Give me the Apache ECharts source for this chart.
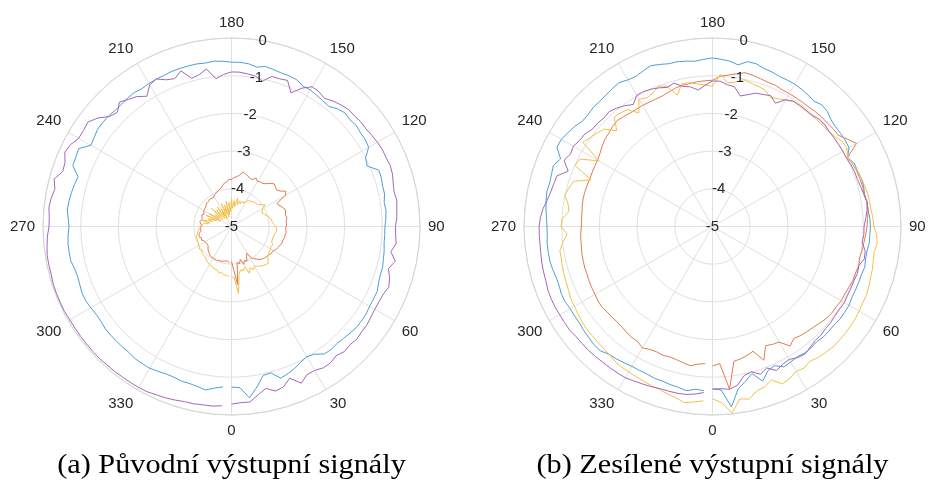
<!DOCTYPE html>
<html>
<head>
<meta charset="utf-8">
<script src="https://cdn.jsdelivr.net/npm/echarts@6/dist/echarts.min.js"></script>
<style>
  html, body { margin: 0; padding: 0; background: #ffffff; }
  #chart { width: 928px; height: 482px; }
</style>
</head>
<body>
<div id="chart"></div>
<script>
// Measurement angles in degrees (one sample every 3°, 0 … 357)
const ANGLES = [];
for (let a = 0; a < 360; a += 3) ANGLES.push(a);

// Radial scale (dB) and angular grid step
const R_MIN = -5, R_MAX = 0, R_STEP = 1;
const ANGLE_STEP = 30;

const CAPTIONS = ['(a) Původní výstupní signály', '(b) Zesílené výstupní signály'];

// (a) original output signals
const A_BLUE = [
  -0.74,-0.72,-0.43,-0.69,-0.96,-0.98,-0.77,-0.82,-0.88,-0.96,
  -1.01,-0.96,-0.82,-0.80,-0.82,-0.80,-0.77,-0.74,-0.74,-0.74,
  -0.77,-0.77,-0.77,-0.82,-0.85,-0.85,-0.88,-0.90,-0.93,-0.93,
  -0.93,-0.90,-0.88,-0.90,-0.85,-0.85,-0.82,-0.82,-1.06,-1.01,
  -0.80,-0.77,-0.77,-0.74,-0.77,-0.74,-0.80,-0.90,-0.88,-0.85,
  -0.82,-0.82,-0.74,-0.72,-0.72,-0.69,-0.66,-0.72,-0.66,-0.64,
  -0.64,-0.61,-0.59,-0.61,-0.59,-0.59,-0.59,-0.59,-0.61,-0.61,
  -0.62,-0.64,-0.61,-0.62,-0.64,-0.64,-0.61,-0.61,-0.61,-0.66,
  -0.69,-0.45,-0.48,-0.49,-0.72,-0.69,-0.66,-0.64,-0.62,-0.66,
  -0.69,-0.66,-0.64,-0.64,-0.64,-0.69,-0.71,-0.69,-0.66,-0.66,
  -0.69,-0.72,-0.72,-0.69,-0.69,-0.69,-0.69,-0.69,-0.66,-0.66,
  -0.66,-0.69,-0.72,-0.72,-0.69,-0.69,-0.66,-0.61,-0.69,-0.74
];
const A_ORANGE = [
  -4.07,-4.02,-3.45,-4.04,-3.99,-4.10,-3.94,-4.04,-3.99,-4.12,
  -4.18,-3.99,-3.94,-3.88,-3.83,-3.80,-3.78,-3.78,-3.75,-3.72,
  -3.72,-3.67,-3.64,-3.62,-3.59,-3.59,-3.56,-3.56,-3.54,-3.56,
  -3.55,-3.54,-3.54,-3.51,-3.54,-3.51,-3.51,-3.56,-3.62,-3.65,
  -3.35,-3.28,-3.40,-3.46,-3.43,-3.40,-3.46,-3.54,-3.59,-3.59,
  -3.62,-3.56,-3.64,-3.63,-3.59,-3.56,-3.52,-3.62,-3.67,-3.70,
  -3.75,-3.75,-3.80,-3.83,-3.88,-3.94,-3.96,-3.99,-4.02,-4.04,
  -4.07,-4.10,-4.12,-4.07,-4.10,-4.12,-4.10,-4.10,-4.15,-4.18,
  -4.15,-4.18,-4.20,-4.15,-4.18,-4.20,-4.18,-4.15,-4.18,-4.20,
  -4.16,-4.18,-4.15,-4.18,-4.12,-4.15,-4.10,-4.15,-4.12,-4.18,
  -4.15,-4.20,-4.18,-4.20,-4.18,-4.12,-4.10,-4.07,-4.04,-4.02,
  -4.03,-4.04,-4.02,-4.04,-4.02,-4.04,-4.07,-4.04,-4.07,-4.04
];
const A_YELLOW = [
  -3.67,-3.64,-3.22,-3.72,-3.83,-3.78,-3.88,-3.67,-3.80,-3.72,
  -3.78,-3.75,-3.70,-3.67,-3.64,-3.62,-3.70,-3.75,-3.78,-3.80,
  -3.80,-3.83,-3.80,-3.86,-3.83,-3.86,-3.83,-3.83,-3.80,-3.80,
  -3.83,-3.88,-3.91,-3.94,-3.94,-3.99,-4.02,-4.07,-4.12,-4.15,
  -4.04,-3.94,-4.02,-4.07,-4.10,-4.12,-4.12,-4.15,-4.18,-4.18,
  -4.20,-4.31,-4.26,-4.36,-4.28,-4.41,-4.23,-4.47,-4.31,-4.52,
  -4.26,-4.60,-4.36,-4.68,-4.31,-4.73,-4.41,-4.63,-4.34,-4.76,
  -4.47,-4.68,-4.36,-4.73,-4.41,-4.63,-4.28,-4.71,-4.47,-4.60,
  -4.31,-4.68,-4.26,-4.57,-4.34,-4.47,-4.20,-4.41,-4.26,-4.28,
  -4.18,-4.20,-4.12,-4.10,-4.07,-4.04,-4.04,-4.02,-4.02,-4.02,
  -3.99,-4.02,-3.96,-3.99,-3.94,-3.96,-3.94,-3.91,-3.88,-3.86,
  -3.83,-3.83,-3.80,-3.78,-3.78,-3.72,-3.75,-3.70,-3.70,-3.67
];
const A_PURPLE = [
  -0.29,-0.32,-0.32,-0.48,-0.61,-0.48,-0.53,-0.69,-0.45,-0.59,
  -0.59,-0.53,-0.53,-0.59,-0.53,-0.56,-0.53,-0.56,-0.56,-0.59,
  -0.61,-0.61,-0.59,-0.53,-0.59,-0.69,-0.56,-0.72,-0.61,-0.64,
  -0.65,-0.61,-0.59,-0.56,-0.59,-0.56,-0.51,-0.49,-0.51,-0.51,
  -0.53,-0.56,-0.59,-0.59,-0.61,-0.61,-0.66,-0.72,-0.80,-0.74,
  -0.72,-0.88,-1.12,-0.85,-0.88,-0.88,-1.06,-0.96,-0.93,-0.90,
  -0.90,-0.96,-1.06,-0.77,-0.88,-0.93,-0.66,-0.80,-0.74,-0.61,
  -0.66,-0.88,-0.74,-0.66,-0.56,-0.72,-0.64,-0.43,-0.29,-0.32,
  -0.32,-0.21,-0.16,-0.27,-0.29,-0.13,-0.21,-0.16,-0.13,-0.16,
  -0.16,-0.11,-0.08,-0.05,-0.05,-0.05,-0.03,-0.03,-0.03,-0.03,
  -0.05,-0.05,-0.05,-0.05,-0.05,-0.05,-0.06,-0.06,-0.07,-0.07,
  -0.07,-0.08,-0.11,-0.13,-0.16,-0.19,-0.19,-0.21,-0.21,-0.24
];

// (b) amplified output signals
const B_BLUE = [
  -0.69,-0.66,-0.19,-0.64,-0.80,-0.96,-0.69,-0.90,-0.96,-0.82,
  -0.85,-0.88,-0.85,-0.85,-0.88,-0.85,-0.85,-0.85,-0.82,-0.82,
  -0.82,-0.85,-0.85,-0.85,-0.85,-0.82,-0.85,-0.85,-0.82,-0.82,
  -0.81,-0.82,-0.85,-0.85,-0.88,-0.85,-0.85,-0.88,-0.88,-0.98,
  -0.82,-0.80,-0.80,-0.80,-0.77,-0.69,-0.66,-0.72,-0.69,-0.66,
  -0.64,-0.64,-0.64,-0.61,-0.59,-0.53,-0.53,-0.66,-0.59,-0.56,
  -0.53,-0.56,-0.59,-0.56,-0.53,-0.53,-0.48,-0.43,-0.48,-0.53,
  -0.51,-0.45,-0.48,-0.51,-0.53,-0.53,-0.56,-0.56,-0.48,-0.43,
  -0.37,-0.37,-0.59,-0.48,-0.51,-0.53,-0.51,-0.53,-0.56,-0.59,
  -0.61,-0.61,-0.59,-0.59,-0.59,-0.61,-0.64,-0.64,-0.61,-0.61,
  -0.64,-0.64,-0.64,-0.61,-0.59,-0.56,-0.56,-0.64,-0.66,-0.69,
  -0.72,-0.72,-0.72,-0.69,-0.69,-0.66,-0.64,-0.59,-0.66,-0.64
];
const B_ORANGE = [
  -1.30,-1.36,-0.66,-1.38,-1.41,-1.46,-1.52,-1.20,-1.54,-1.49,
  -1.46,-1.22,-1.33,-1.28,-1.25,-1.22,-1.17,-1.12,-1.09,-1.09,
  -1.06,-1.06,-1.04,-1.01,-1.01,-0.98,-1.01,-0.98,-0.96,-0.93,
  -0.90,-0.88,-0.85,-0.85,-0.88,-0.88,-0.89,-0.90,-0.93,-0.98,
  -0.59,-0.74,-0.88,-0.88,-0.90,-0.90,-0.91,-0.93,-0.93,-0.93,
  -0.93,-0.93,-0.90,-0.90,-0.88,-0.85,-0.83,-0.90,-0.96,-1.01,
  -1.12,-1.13,-1.14,-1.16,-1.17,-1.20,-1.25,-1.29,-1.30,-1.30,
  -1.29,-1.29,-1.28,-1.25,-1.22,-1.25,-1.30,-1.33,-1.38,-1.44,
  -1.48,-1.49,-1.50,-1.51,-1.50,-1.49,-1.49,-1.50,-1.52,-1.52,
  -1.52,-1.50,-1.49,-1.48,-1.46,-1.45,-1.44,-1.44,-1.42,-1.41,
  -1.40,-1.38,-1.37,-1.40,-1.41,-1.42,-1.41,-1.38,-1.36,-1.36,
  -1.28,-1.34,-1.36,-1.34,-1.36,-1.34,-1.30,-1.26,-1.33,-1.36
];
const B_YELLOW = [
  -0.43,-0.32,-0.03,-0.37,-0.32,-0.48,-0.53,-0.64,-0.43,-0.48,
  -0.56,-0.53,-0.59,-0.53,-0.51,-0.48,-0.48,-0.48,-0.49,-0.49,
  -0.51,-0.53,-0.53,-0.56,-0.59,-0.61,-0.64,-0.66,-0.61,-0.64,
  -0.72,-0.74,-0.77,-0.78,-0.79,-0.82,-0.85,-0.88,-0.93,-0.98,
  -0.88,-0.88,-0.96,-1.01,-1.04,-1.04,-1.05,-1.06,-1.05,-1.05,
  -1.12,-1.20,-1.24,-1.12,-1.09,-1.06,-1.02,-1.12,-1.17,-0.96,
  -1.28,-1.24,-1.20,-1.14,-1.12,-1.39,-1.09,-1.01,-1.12,-1.17,
  -1.10,-1.41,-1.17,-1.12,-1.10,-1.41,-1.14,-1.06,-0.99,-0.90,
  -1.52,-1.06,-1.01,-1.55,-1.12,-1.06,-0.99,-1.12,-1.17,-1.01,
  -0.98,-1.14,-1.01,-0.90,-0.90,-0.88,-0.86,-0.85,-0.82,-0.78,
  -0.77,-0.74,-0.72,-0.69,-0.69,-0.68,-0.66,-0.64,-0.59,-0.56,
  -0.55,-0.53,-0.51,-0.48,-0.45,-0.40,-0.35,-0.27,-0.32,-0.37
];
const B_PURPLE = [
  -0.69,-0.69,-0.66,-0.74,-0.96,-1.01,-0.88,-0.98,-0.82,-0.90,
  -0.93,-0.85,-0.82,-0.88,-0.93,-0.93,-0.96,-0.96,-0.98,-0.98,
  -0.96,-0.98,-0.98,-0.98,-0.96,-0.98,-0.88,-0.90,-1.01,-0.98,
  -0.98,-0.93,-0.88,-0.85,-0.90,-0.93,-0.96,-0.96,-0.98,-1.01,
  -1.01,-1.01,-1.01,-1.01,-0.98,-0.98,-1.04,-1.04,-1.04,-1.04,
  -1.12,-1.33,-1.20,-1.25,-1.28,-1.38,-1.46,-1.25,-1.22,-1.14,
  -1.14,-1.25,-1.36,-1.25,-1.20,-1.06,-1.12,-1.06,-1.01,-0.98,
  -0.98,-1.14,-1.04,-0.96,-0.90,-0.93,-0.90,-0.90,-0.82,-0.80,
  -0.74,-0.77,-0.69,-0.90,-0.66,-0.64,-0.61,-0.56,-0.48,-0.43,
  -0.40,-0.40,-0.40,-0.39,-0.37,-0.36,-0.35,-0.32,-0.31,-0.31,
  -0.32,-0.32,-0.32,-0.35,-0.35,-0.35,-0.36,-0.37,-0.37,-0.37,
  -0.37,-0.40,-0.43,-0.45,-0.48,-0.48,-0.48,-0.49,-0.53,-0.59
];

const COLORS = { blue: '#4c9ed7', orange: '#e07a52', yellow: '#f2c04a', purple: '#a465ba' };
const GRID = '#e0e0e0';
const RIM = '#d5d5d5';
const LABEL = '#262626';
const SANS = '"Liberation Sans", Arial, Helvetica, sans-serif';
const SERIF = '"Liberation Serif", "Times New Roman", serif';

const CENTERS = [[231.5, 226.5], [712.5, 226.5]];
const RADIUS = 188.5;

function plotAngleAxis(polarIndex) {
  return {
    polarIndex, type: 'value', min: 0, max: 360, interval: ANGLE_STEP,
    startAngle: 270, clockwise: false,
    axisLine: { show: true, lineStyle: { color: RIM, width: 1 } },
    axisTick: { show: false },
    axisLabel: { margin: 8, color: LABEL, fontSize: 15, fontFamily: SANS },
    splitLine: { show: true, lineStyle: { color: GRID, width: 1 } }
  };
}
function plotRadiusAxis(polarIndex) {
  return {
    polarIndex, type: 'value', min: R_MIN, max: R_MAX, interval: R_STEP,
    axisLine: { show: false }, axisTick: { show: false }, axisLabel: { show: false },
    splitLine: { show: true, lineStyle: { color: GRID, width: 1 } }
  };
}
// Radial tick labels sit on the 170° ray, drawn by a second polar system
function labelAngleAxis(polarIndex) {
  return { polarIndex, type: 'value', min: 0, max: 360, startAngle: 80.5, show: false };
}
function labelRadiusAxis(polarIndex) {
  return {
    polarIndex, type: 'value', min: R_MIN, max: R_MAX, interval: R_STEP, z: 10,
    axisLine: { show: false }, axisTick: { show: false }, splitLine: { show: false },
    axisLabel: {
      show: true, margin: 0, align: 'center', verticalAlign: 'middle',
      color: LABEL, fontSize: 15, fontFamily: SANS
    }
  };
}
function trace(name, vals, color, polarIndex) {
  return {
    type: 'line', name, coordinateSystem: 'polar', polarIndex,
    data: vals.map((v, i) => [v, ANGLES[i]]),
    showSymbol: false, symbol: 'none', silent: true,
    lineStyle: { color, width: 1 }, itemStyle: { color }, z: 2
  };
}

const chart = echarts.init(document.getElementById('chart'), null, { renderer: 'canvas' });
chart.setOption({
  animation: false,
  backgroundColor: '#ffffff',
  polar: [
    { center: CENTERS[0], radius: RADIUS },
    { center: CENTERS[1], radius: RADIUS },
    { center: CENTERS[0], radius: RADIUS },
    { center: CENTERS[1], radius: RADIUS }
  ],
  angleAxis: [plotAngleAxis(0), plotAngleAxis(1), labelAngleAxis(2), labelAngleAxis(3)],
  radiusAxis: [plotRadiusAxis(0), plotRadiusAxis(1), labelRadiusAxis(2), labelRadiusAxis(3)],
  series: [
    trace('a1', A_BLUE, COLORS.blue, 0),
    trace('a2', A_ORANGE, COLORS.orange, 0),
    trace('a3', A_YELLOW, COLORS.yellow, 0),
    trace('a4', A_PURPLE, COLORS.purple, 0),
    trace('b1', B_BLUE, COLORS.blue, 1),
    trace('b2', B_ORANGE, COLORS.orange, 1),
    trace('b3', B_YELLOW, COLORS.yellow, 1),
    trace('b4', B_PURPLE, COLORS.purple, 1)
  ],
  graphic: CAPTIONS.map((t, i) => ({
    type: 'text', x: CENTERS[i][0], y: 466, scaleX: 1.12,
    style: {
      text: t, align: 'center', verticalAlign: 'middle',
      fontSize: 27, fontFamily: SERIF, fill: '#000000'
    }
  }))
});
</script>
</body>
</html>
